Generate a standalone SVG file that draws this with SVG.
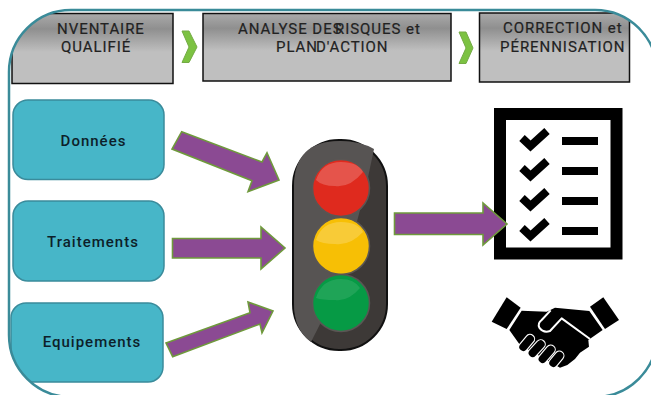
<svg xmlns="http://www.w3.org/2000/svg" width="651" height="395" viewBox="0 0 651 395">
<style>
.hdr{fill:url(#g);stroke:#111;stroke-width:1.5}
.ht{font:400 15px Roboto,"Liberation Sans",sans-serif;fill:#222;letter-spacing:.95px;stroke:#222;stroke-width:.2}
.tl{fill:#47b6c8;stroke:#3a8b9b;stroke-width:1.5}
.tt{font:500 15px Roboto,"Liberation Sans",sans-serif;fill:#0d1f2a;letter-spacing:1px;text-anchor:middle}
.arr{fill:#8b4a93;stroke:#6f9a3c;stroke-width:1.6}
.chev{fill:#7cc242;stroke:#74ab45;stroke-width:1}
.bar{fill:#000}
.chk{fill:none;stroke:#000;stroke-width:8}
.ring{stroke:#5a5654;stroke-width:1.5}
.sh{fill:#fff;opacity:.2}
</style>
<defs>
<linearGradient id="g" x1="0" y1="0" x2="0" y2="1"><stop offset="0" stop-color="#aaa"/><stop offset=".22" stop-color="#8f8f8f"/><stop offset=".55" stop-color="#bfbfbf"/><stop offset="1" stop-color="#bfbfbf"/></linearGradient>
<clipPath id="fr"><rect x="9" y="10" width="648" height="387" rx="62" ry="62"/></clipPath>
</defs>
<rect width="651" height="395" fill="#fff"/>
<g clip-path="url(#fr)">
<g id="box-inventaire"><rect class="hdr" x="12" y="13.5" width="161" height="70"/>
<text class="ht" x="57" y="33.500">NVENTAIRE</text><text class="ht" x="61" y="52">QUALIFIÉ</text></g>
<g id="box-analyse"><rect class="hdr" x="203" y="13.5" width="248" height="67.5"/>
<text class="ht" x="238" y="33.500">ANALYSE DES</text><text class="ht" x="335" y="33.500">RISQUES et</text>
<text class="ht" x="276" y="52">PLAN</text><text class="ht" x="316" y="52">D'ACTION</text></g>
<g id="box-correction"><rect class="hdr" x="479.500" y="13" width="150" height="69"/>
<text class="ht" x="503" y="33">CORRECTION et</text><text class="ht" x="500" y="51.500">PÉRENNISATION</text></g>
<g id="node-donnees"><rect class="tl" x="13" y="100" width="151" height="79.500" rx="15"/><text class="tt" x="93.500" y="146">Données</text></g>
<g id="node-traitements"><rect class="tl" x="13" y="201" width="151" height="80" rx="15"/><text class="tt" x="93" y="247">Traitements</text></g>
<g id="node-equipements"><rect class="tl" x="11" y="303" width="152" height="79" rx="15"/><text class="tt" x="92" y="347">Equipements</text></g>
</g>
<rect id="frame" x="9" y="10" width="648" height="387" rx="62" ry="62" fill="none" stroke="#3a8b99" stroke-width="2.5"/>
<g id="traffic-light">
<rect x="293" y="140" width="94" height="210" rx="46" fill="#3d3937" stroke="#111" stroke-width="2"/>
<path d="M374,149 Q350,270 311,342 Q294,330 294,304 V186 Q294,141 340,141 Q360,141 374,149Z" fill="#575453"/>
<circle class="ring" cx="341" cy="188" r="28.500" fill="#df2a1e"/>
<path class="sh" d="M316,180 Q322,162 341,162 Q358,162 363,172 Q350,188 335,186 Q322,186 316,180Z"/>
<circle class="ring" cx="341" cy="246" r="28.500" fill="#f7bf05"/>
<path class="sh" d="M316,240 Q322,222 341,222 Q358,222 363,232 Q350,246 335,244 Q322,244 316,240Z"/>
<circle class="ring" cx="341" cy="303" r="28.500" fill="#069a45"/>
<path class="sh" d="M316,298 Q322,279 341,279 Q354,279 360,288 Q348,302 335,300 Q322,300 316,298Z" style="opacity:.1"/>
</g>
<g id="checklist">
<rect x="500" y="114" width="116.500" height="139.500" fill="#fff" stroke="#000" stroke-width="12"/>
<rect class="bar" x="562" y="137" width="36" height="8"/><rect class="bar" x="562" y="167" width="36" height="8"/><rect class="bar" x="562" y="197" width="36" height="8"/><rect class="bar" x="562" y="227" width="36" height="8"/>
<path class="chk" d="M522,138 L530.500,146 L547,131"/><path class="chk" d="M522,168 L530.500,176 L547,161"/><path class="chk" d="M522,198 L530.500,206 L547,191"/><path class="chk" d="M522,228 L530.500,236 L547,221"/>
</g>
<g id="handshake" transform="translate(480 285) scale(.3333)">
<polygon points="35,110 80,37 122,68 80,132"/>
<polygon points="330,65 370,37 417,105 375,132"/>
<path d="M125,77 L200,80 L225,68 L328,78 L368,135 L325,165 L327,185 L300,203 L285,222 L262,240 L240,248 L200,225 L120,180 L88,135Z"/>
<g stroke-linecap="round" fill="none">
<g stroke="#fff" stroke-width="31"><path d="M130,186 L150,162"/><path d="M158,204 L182,178"/><path d="M188,222 L212,194"/><path d="M220,234 L238,212"/></g>
<g stroke="#000" stroke-width="24"><path d="M130,186 L150,162"/><path d="M158,204 L182,178"/><path d="M188,222 L212,194"/><path d="M220,234 L238,212"/></g>
</g>
<path d="M330,162 L245,100 L210,138 Q190,145 178,128 Q172,115 185,105 L212,76" fill="none" stroke="#fff" stroke-width="6" stroke-linejoin="round"/>
</g>
<g id="connectors">
<polygon class="chev" points="182,31 189,31 197,47 189,62.500 182,62.500 189,47"/>
<polygon class="chev" points="459,32 466,32 473,48 466,63.500 459,63.500 466,48"/>
<polygon class="arr" points="181.700,131.700 262,162 267,152.700 279,180 248,191.700 252,180.700 172,149"/>
<polygon class="arr" points="172.500,238.500 261,238.500 261,227 285,248 261,269 261,258 172.500,258"/>
<polygon class="arr" points="166,343 250,312.700 248,302 273,311 262,333 260,324 172.700,356.700"/>
<polygon class="arr" points="394.500,213 483,213 483,203 507,224 483,245 483,234.500 394.500,234.500"/>
</g>
</svg>
